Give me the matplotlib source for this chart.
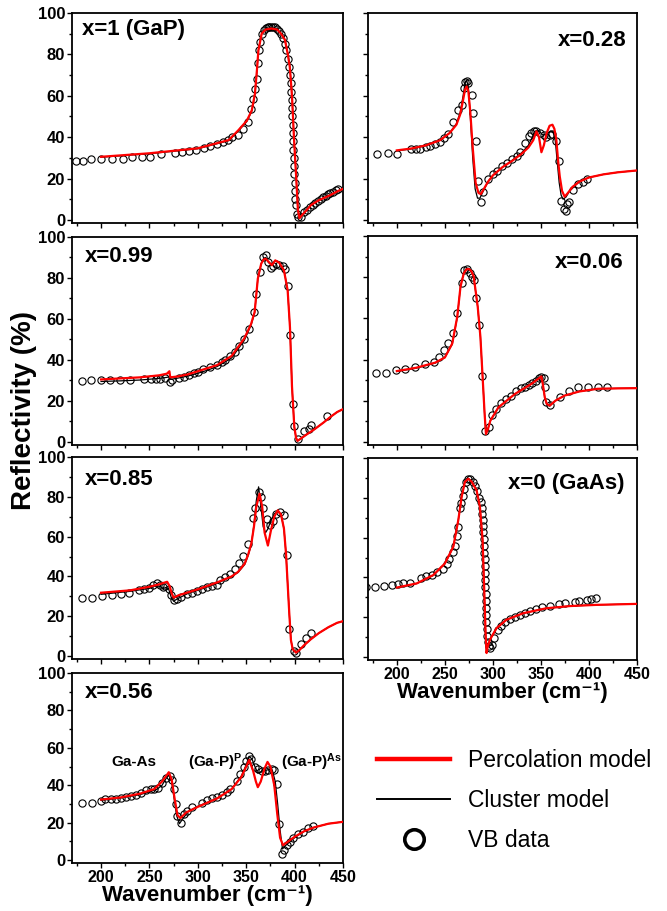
import matplotlib
matplotlib.use("Agg")
import matplotlib.pyplot as plt
from matplotlib.lines import Line2D
from matplotlib.ticker import MultipleLocator

plt.rcParams['font.family'] = ['Liberation Sans', 'DejaVu Sans']
plt.rcParams['mathtext.default'] = 'regular'

# ---- x = 1 (GaP) ----
vb_x_gap = [174, 181.5, 189.5, 199.5, 211, 222.5, 232.5, 242, 251, 261.5, 276, 283.5, 290.5, 298, 306.5,
            312.5, 320, 326, 331, 335.5, 341, 347, 351.5, 355, 357.5, 359, 361, 362, 363.3, 364.3, 366,
            368, 370, 372, 374, 376, 378, 380, 382, 384, 386, 388, 390, 391.5, 393, 394.5, 395.5, 396,
            396.5, 397, 397.3, 397.6, 397.9, 398.2, 398.5, 398.8, 399.1, 399.4, 399.7, 400, 400.3, 400.6,
            401, 402, 404, 407, 410, 413, 415.5, 418.5, 421, 424, 427, 429.5, 432, 434.5, 437, 439.5,
            442.5, 445]
vb_y_gap = [28.6, 28.6, 29.3, 29.3, 29.3, 29.6, 30.2, 30.4, 30.5, 32, 32.3, 32.6, 33.1, 33.9, 34.6,
            35.5, 36.8, 37.5, 38.6, 40, 41, 44, 47.5, 53.5, 58.5, 63.5, 68, 76, 82, 86, 90,
            92, 92.8, 93, 93.2, 93.2, 93.2, 93, 92.5, 91.5, 90, 88, 85, 82, 78, 74, 70, 66,
            62, 58, 54, 50, 46, 42, 38, 34, 30, 26, 22, 18, 14, 10,
            7, 3, 1.5, 1.5, 4, 5, 6, 7, 8, 9, 10, 11, 11.5, 12.5, 13, 13.5,
            14.5, 15]
perc_x_gap = [200, 250, 300, 332, 342, 350.7, 355.8, 359, 361, 362.6, 366, 370, 376, 382, 386, 390, 393,
              395, 396.5, 397.5, 399.3, 401.7, 403.4, 405, 408, 412, 417, 425, 437, 445, 450]
perc_y_gap = [30.5, 32.2, 34.6, 38.6, 43.4, 48, 53, 61, 72, 82, 90, 92, 92.5, 92, 90, 87, 80,
              74, 65, 58, 40, 20, 5, 0.8, 2.5, 4.5, 7.2, 9.5, 12, 14, 15]
clus_x_gap = [200, 250, 300, 332, 342, 350.7, 355.8, 359, 361, 362.6, 366, 370, 376, 382, 386, 390, 393,
              395, 396.5, 397.5, 399.3, 401.7, 403.4, 405, 408, 412, 417, 425, 437, 445, 450]
clus_y_gap = [30.3, 32, 34.4, 38.3, 43, 47.6, 52.6, 60.5, 71.5, 82, 90.2, 92.3, 92.8, 92.2, 90.2, 87.2, 80.5,
              74.5, 65.5, 58, 40, 20, 5, 0.8, 2.5, 4.5, 7.2, 9.5, 12, 14, 15]

# ---- x = 0.28 ----
vb_x_028 = [179.2, 190.3, 200.7, 214.9, 220, 224.2, 230.1, 234.6, 239.8, 245, 249.5, 253.6, 258.8, 264,
            267.5, 269.9, 270.9, 272.7, 274.4, 277.9, 279.6, 282, 284.8, 287.2, 290, 295.2, 300.3, 303.8,
            309, 314.2, 319.4, 324.6, 328, 333.2, 337.7, 340.1, 342.6, 345.3, 348.8, 353, 355.7, 359.2,
            361.9, 366.1, 368.9, 371.3, 374, 375.8, 377, 379.2, 383.4, 388.6, 393.8, 398.3]
vb_y_028 = [31.9, 32.2, 31.9, 34.3, 34.5, 34.1, 35.1, 35.7, 36.5, 37.5, 39.6, 41.3, 47.1, 53.3,
            55.3, 63.8, 66.5, 67, 66, 60.6, 51.5, 38, 19, 8.5, 13.5, 20, 22, 23.5,
            26, 27.5, 29.5, 31, 33, 37.4, 40.5, 42, 43, 43.2, 42, 41, 40, 41,
            41.5, 38, 28.5, 9, 5.5, 4.5, 7.5, 8.5, 14.5, 17.5, 18.5, 20]
perc_x_028 = [200, 215, 230, 245, 255, 262, 266, 269, 271, 272.7, 274.5, 276.5, 279, 282, 285, 287.5, 290,
              295, 300, 310, 320, 330, 337, 342, 345.3, 348, 350.5, 353, 356, 359, 362, 364, 366, 368,
              369.6, 372, 374.7, 378, 383, 390, 400, 415, 430, 450]
perc_y_028 = [33.6, 34.5, 36, 38.5, 42, 46, 51, 58, 63, 64.5, 62, 52, 35, 18, 13, 12.5, 14.5,
              18.5, 21.5, 25.5, 28.5, 32, 35, 38.5, 42.8, 40, 32.7, 36, 42, 45.5, 46, 44, 38.8, 28,
              21, 14, 11.2, 13, 16, 18.5, 20.5, 22, 23, 23.9]
clus_x_028 = [200, 215, 230, 245, 255, 262, 266, 269, 271, 272.7, 274.5, 276.5, 279, 281.5, 284, 286.5, 289,
              295, 300, 310, 320, 330, 337, 341, 345, 349, 352, 356, 360, 363, 365, 367, 369, 371, 373,
              376, 380, 390, 400, 415, 430, 450]
clus_y_028 = [33.4, 34.3, 35.8, 38.5, 42, 46.5, 52, 60, 66, 67.5, 64, 50, 30, 15, 10.5, 10.5, 13,
              18.5, 21.5, 25.5, 28.8, 32.5, 36, 40, 43.2, 42.5, 41, 41.5, 43, 42.5, 38, 28, 18, 12, 10,
              11, 14, 18.5, 20.5, 22, 23, 23.9]

# ---- x = 0.99 ----
vb_x_099 = [180.2, 189.8, 200, 209.6, 219.8, 229.7, 244.4, 251.2, 256.3, 261.4, 265.9, 271, 273.4, 280.2,
            285.3, 290.4, 295.6, 300.7, 305.8, 312.6, 319.5, 324.6, 328, 333.1, 338.2, 342.7, 347.8,
            352.6, 358, 360.4, 363.8, 367.2, 370, 372.4, 375.1, 377.5, 380.9, 384.3, 387.7, 390.1,
            392.8, 395.2, 397.9, 399.7, 403.1, 409.9, 415, 416.7, 433.1]
vb_y_099 = [29.6, 30, 30, 30.4, 30.4, 30.4, 30.6, 30.9, 30.9, 30.6, 31.2, 29.3, 30, 31,
            31.5, 32.5, 33.5, 34.3, 35.5, 36.5, 37.5, 39, 40, 42, 44, 47, 50,
            55, 63.5, 72, 83, 90, 91, 88, 85, 86, 87, 86.5, 86, 84.5,
            76, 52, 18.5, 8, 1.5, 5.5, 6.5, 8.5, 12.5]
perc_x_099 = [200, 220, 240, 260, 268, 270, 270.6, 271.5, 280, 290, 300, 320, 335, 348, 355, 358.7, 362,
              365.5, 368, 370, 373, 376.5, 380, 384, 389, 392.8, 395.2, 397.3, 399.7, 401.5, 403, 406,
              412, 420, 430, 437, 444, 450]
perc_y_099 = [30.5, 31, 31.5, 32.5, 33.3, 34.2, 34.5, 31.5, 32, 33, 34.5, 37.5, 42, 50.5, 57.5, 63.4, 79.7,
              87, 89, 89.4, 88, 86.2, 88.6, 87.5, 83.7, 74, 56, 27, 7.3, 2, 0.5, 1.5,
              3.5, 6, 9.5, 12.2, 14.6, 16]
clus_x_099 = [200, 220, 240, 260, 268, 270.5, 272, 280, 290, 300, 310, 320, 335, 348, 355, 358.7, 362,
              365.5, 368, 370, 373, 376.5, 380, 384, 389, 392.8, 395.2, 397.3, 399.7, 401.5, 403, 406,
              412, 420, 430, 437, 444, 450]
clus_y_099 = [29.5, 29.8, 30.2, 31, 31.5, 31.8, 30.5, 31.2, 32.2, 33.5, 35, 36.8, 41, 49.5, 57, 63, 79.5,
              87, 89.5, 90, 87.5, 86.5, 88.5, 87.5, 84, 74, 56, 27, 7.3, 2, 0.5, 1.5,
              3.5, 6, 9.5, 12.2, 14.6, 16]

# ---- x = 0.06 ----
vb_x_006 = [178.7, 189, 199.3, 208.9, 219.2, 229.6, 238.8, 244, 249.1, 253.6, 258.4, 262.9, 267.4, 270.1,
            273.2, 276, 278, 280.8, 282.8, 285.2, 288.7, 292.1, 295.5, 299, 303.4, 308.6, 313.4, 318.9,
            323.7, 329.2, 333.3, 337.5, 341.2, 344.7, 347.8, 350.5, 352.9, 354, 355.7, 359.1, 369.4,
            379.7, 389, 398.6, 408.9, 419.2]
vb_y_006 = [33.4, 33.6, 34.9, 35.6, 36.4, 37.7, 38.7, 41, 44.5, 48.2, 52.7, 62.6, 77, 83.5,
            84, 82.2, 80, 78.5, 70, 57, 31.8, 5.5, 7, 13, 16, 19, 21, 22.5,
            24.5, 26, 26.5, 27.5, 28.5, 29.5, 31.2, 31.5, 31, 26.5, 19.5, 18, 22,
            24.5, 26.5, 26.7, 26.8, 26.5]
perc_x_006 = [200, 220, 240, 250, 257.7, 262.9, 266.3, 269.8, 272.5, 274.9, 277.5, 280, 284.2, 287, 289.3,
              291.4, 292.8, 295, 297.3, 305.8, 323, 340.2, 348.8, 350.5, 352, 354, 356, 359.1, 365,
              374.6, 390, 409, 430, 450]
perc_y_006 = [34.4, 36, 38.5, 41, 47.8, 60.8, 75.5, 82, 83.8, 84, 83, 80.4, 65.7, 51, 31.5,
              13.5, 3.8, 6.5, 10.3, 16.8, 23.3, 28.2, 31.2, 31.8, 28, 21.7, 18.5, 17.6, 20,
              22.5, 24.5, 25.8, 26, 26.1]
clus_x_006 = [200, 220, 240, 250, 257.7, 262.9, 266.3, 269.8, 272.5, 274.9, 277.5, 280, 284.2, 287, 289.3,
              291.4, 292.8, 295, 297.3, 305.8, 323, 340.2, 348.8, 350.5, 352, 354, 356, 359.1, 365,
              374.6, 390, 409, 430, 450]
clus_y_006 = [34.2, 35.8, 38.3, 41, 47.5, 60.5, 75.5, 82.5, 84.2, 84.3, 83, 80, 65.5, 51, 31.5,
              13.5, 4, 6.5, 10.3, 16.8, 23.3, 28.4, 31.5, 32, 28, 21.5, 18.3, 17.4, 20,
              22.5, 24.5, 25.8, 26, 26.1]

# ---- x = 0.85 ----
vb_x_085 = [180.2, 190.4, 200.7, 210.9, 220.5, 229, 239.2, 244.4, 249.5, 253.6, 258, 261.4, 264.2, 266.6,
            270, 272.4, 275.1, 278.5, 282.9, 288.7, 293.9, 299, 304.1, 309.2, 314.3, 319.5, 322.9, 328,
            333.1, 338.2, 342.3, 346.8, 351.9, 357, 359.4, 362.8, 365.5, 367.2, 371.7, 374.1, 377.5,
            380.9, 385.3, 388.7, 392.2, 394.5, 399, 401.4, 406.5, 411.6, 416.7]
vb_y_085 = [29.3, 29.3, 30.1, 30.6, 31, 31.8, 33.3, 33.5, 34, 35.8, 36.5, 35.5, 34.5, 35,
            33.5, 30.5, 28, 28.5, 29.8, 31.2, 31.8, 32.5, 33.5, 34.5, 35.2, 35.5, 38, 39.5,
            41, 43.5, 46.5, 50.5, 56.5, 69.5, 74.5, 82.4, 80, 74.5, 69, 66, 68,
            71.5, 72.5, 71, 50.8, 13.5, 2.7, 1.7, 6, 8.9, 11.7]
perc_x_085 = [200, 230, 250, 260, 265, 268.3, 271, 273, 275.1, 280, 290, 300, 320, 335, 341.6, 348.5, 352,
              355.3, 358, 360.4, 363.8, 366.5, 369, 372.4, 375.5, 379, 382.6, 386, 389, 391.1, 394.5,
              396.2, 398, 401.4, 405, 410, 416.7, 425, 435, 444, 450]
perc_y_085 = [31.8, 33, 34.8, 36, 36.8, 37.3, 35, 31.5, 29.3, 30.5, 32, 33.5, 37, 40, 42.3, 46.5, 51,
              56.5, 65, 75, 81.6, 75, 62, 55.5, 63, 70, 73.2, 71, 64, 51.5, 21.4,
              8, 3.5, 1.7, 3, 5.5, 8.4, 11.5, 14.5, 16.7, 17.5]
clus_x_085 = [200, 230, 250, 257, 261, 264, 267, 270, 272.5, 275, 278, 290, 300, 320, 335, 341.6, 348.5,
              352, 355.3, 358, 360.4, 362.8, 365, 367.5, 370, 372.5, 375.5, 379, 382.6, 386, 389, 391.1,
              394.5, 396.2, 398, 401.4, 405, 410, 416.7, 425, 435, 444, 450]
clus_y_085 = [31, 32.5, 34, 35.5, 35, 33.8, 34.5, 33.5, 29.5, 27.5, 28.5, 31.5, 33, 36.5, 40, 42, 46,
              50.5, 56, 66, 78, 85, 76, 65, 62, 64, 68, 71.5, 72.5, 71, 64, 51.5,
              21.4, 8, 3.5, 1.7, 3, 5.5, 8.4, 11.5, 14.5, 16.7, 17.5]

# ---- x = 0 (GaAs) ----
vb_x_gaas = [168.2, 176.8, 186.2, 194.8, 201, 206.9, 213.8, 224.9, 230.4, 236.3, 241.5, 247.8, 251.9,
             254.7, 258.1, 260.6, 262.3, 264, 265.7, 266.8, 268.5, 270.2, 272, 273.7, 276.1, 278.9,
             281.3, 283.7, 285.8, 287.5, 288.2, 288.8, 289.3, 289.8, 290.2, 290.6, 290.9, 291.2, 291.5,
             291.7, 291.9, 292.1, 292.3, 292.5, 292.7, 292.9, 293.1, 293.3, 293.6, 294, 294.6, 295.5,
             297, 298.6, 301, 304.8, 308, 312.5, 317.6, 322.8, 328, 333.2, 338.4, 344.6, 351.6, 359.2,
             368.9, 374.7, 385.1, 389.6, 398.3, 402.4, 407.6]
vb_y_gaas = [35.4, 35.2, 35.7, 36.4, 36.9, 37.1, 37.4, 39.8, 40.6, 41.4, 42.9, 44.4, 46.7,
             49.3, 52.7, 56, 60.8, 65.4, 74.8, 77.5, 81, 84.5, 88, 89.5, 89.5, 88,
             86, 83.5, 80, 78, 75, 72, 69, 66, 63, 59.5, 56, 52.5, 49,
             45.5, 42, 38.5, 35, 31.5, 28, 24.5, 21, 17.5, 14, 10.5, 7.5, 5.5,
             4.5, 6, 9.5, 13.5, 15.5, 17.5, 19, 20, 21.3, 22.2, 23, 24.3, 25, 25.7,
             26.7, 27, 27.7, 27.9, 28.4, 29.1, 29.5]
perc_x_gaas = [200, 220.8, 238, 250, 258.8, 264, 267.5, 270.9, 274.4, 278, 283, 286.5, 289.3, 291, 292.4,
               293.4, 294.5, 296.9, 303.8, 314, 331.5, 355.7, 380, 407.6, 450]
perc_y_gaas = [34.9, 37, 41.2, 47, 55.4, 68.8, 80.5, 88, 89.6, 88, 83.8, 75.5, 58.8, 33.7, 12,
               2, 5, 8.7, 14.5, 18.7, 22, 24.5, 25.6, 26.2, 26.7]
clus_x_gaas = [200, 220.8, 238, 250, 258.8, 264, 267.5, 270.9, 274.4, 278, 283, 286.5, 289.3, 291, 292.4,
               293.4, 294.5, 296.9, 303.8, 314, 331.5, 355.7, 380, 407.6, 450]
clus_y_gaas = [34.8, 36.9, 41, 46.8, 55.2, 68.8, 80.8, 88.3, 89.8, 88.2, 84, 75.5, 58.8, 33.7, 12,
               2.2, 5, 8.7, 14.5, 18.7, 22, 24.5, 25.6, 26.2, 26.7]

# ---- x = 0.56 ----
vb_x_056 = [180.5, 190.8, 200, 204.5, 210.3, 215.4, 220.5, 225.7, 230.8, 236, 241.1, 246.2, 251.4, 254.8,
            259.2, 263.4, 266.8, 270.9, 273.6, 275.3, 277.1, 278.8, 282.2, 285.6, 289, 294.2, 304.5,
            309.6, 314.7, 319.9, 325, 330.1, 333.6, 340.4, 343.8, 347.3, 349.7, 352.4, 355.1, 358.6,
            362, 366.1, 369.5, 372.9, 376.4, 379.1, 381.5, 383.9, 386.6, 389.4, 391.8, 395.2, 398.6,
            403.8, 408.9, 414, 419.2]
vb_y_056 = [30.6, 30.8, 31.5, 32.5, 32.5, 32.5, 33.3, 33.8, 34.3, 35, 36, 37.4, 38, 38.1,
            38.5, 41, 44, 45, 43, 37.8, 30, 23.5, 20, 24.5, 26.5, 28.3, 30.5,
            32, 33, 34, 35, 36.5, 38, 42.5, 46, 50, 53, 55.5, 54, 50,
            48.5, 47.5, 47.5, 48, 48.5, 48, 40.5, 19.6, 3.2, 5.5, 8, 9.5, 12,
            14, 15, 17, 18.1]
perc_x_056 = [200, 220, 240, 255, 263, 268, 270, 273, 276, 279, 282, 288, 300, 320, 335, 345, 350, 353,
              357, 360, 362, 365, 369, 372, 375, 379, 382, 385, 388, 392, 400, 410, 420, 435, 450]
perc_y_056 = [32.4, 33.5, 35.5, 38, 42, 45.5, 47, 43, 33, 24, 22.5, 25.5, 28.5, 33, 38, 44.5, 50, 53.5,
              48, 42, 39, 42, 49, 52.5, 50, 40, 25, 12, 8, 9.5, 12.5, 15.5, 17.5, 19.5, 20.5]
clus_x_056 = [200, 220, 240, 250, 258, 263, 267, 270, 273, 275.5, 278, 281, 285, 290, 300, 320, 335, 345,
              350, 353, 356, 359, 362, 366, 370, 374, 377, 380, 382.5, 385, 387.5, 391, 400, 410, 420,
              435, 450]
clus_y_056 = [32, 33.2, 35, 36.5, 38, 40, 43.5, 45.5, 42, 33, 24, 19.5, 22.5, 26, 28.8, 33, 38, 45,
              51, 55.5, 54, 50, 46.5, 47.5, 48, 48.5, 48, 42, 30, 16, 6, 8, 12, 15.5, 17.5,
              19.5, 20.5]

W, H = 667, 911
fig = plt.figure(figsize=(W / 100, H / 100), dpi=100)


def px_rect(left, top, right, bottom):
    return [left / W, 1 - bottom / H, (right - left) / W, (bottom - top) / H]


# (title, vb, perc, clus, axes box in px, title position, title align, x labels, y labels)
panels = [
    ('x=1 (GaP)', (vb_x_gap, vb_y_gap), (perc_x_gap, perc_y_gap), (clus_x_gap, clus_y_gap),
     px_rect(72, 13, 343, 223), (0.037, 0.92), 'left', False, True),
    ('x=0.99', (vb_x_099, vb_y_099), (perc_x_099, perc_y_099), (clus_x_099, clus_y_099),
     px_rect(72, 237, 343, 445), (0.048, 0.905), 'left', False, True),
    ('x=0.85', (vb_x_085, vb_y_085), (perc_x_085, perc_y_085), (clus_x_085, clus_y_085),
     px_rect(72, 457, 343, 659), (0.048, 0.89), 'left', False, True),
    ('x=0.56', (vb_x_056, vb_y_056), (perc_x_056, perc_y_056), (clus_x_056, clus_y_056),
     px_rect(72, 673, 343, 863), (0.048, 0.895), 'left', True, True),
    ('x=0.28', (vb_x_028, vb_y_028), (perc_x_028, perc_y_028), (clus_x_028, clus_y_028),
     px_rect(368, 13, 637, 223), (0.96, 0.87), 'right', False, False),
    ('x=0.06', (vb_x_006, vb_y_006), (perc_x_006, perc_y_006), (clus_x_006, clus_y_006),
     px_rect(368, 236, 637, 445), (0.95, 0.875), 'right', False, False),
    ('x=0 (GaAs)', (vb_x_gaas, vb_y_gaas), (perc_x_gaas, perc_y_gaas), (clus_x_gaas, clus_y_gaas),
     px_rect(368, 458, 637, 660), (0.955, 0.875), 'right', True, False),
]

for title, vb, perc, clus, rect, tpos, ha, xlab, ylab in panels:
    ax = fig.add_axes(rect)
    ax.plot(vb[0], vb[1], 'o', mfc='none', mec='black', mew=0.8, ms=5.2, zorder=2)
    ax.plot(clus[0], clus[1], color='black', lw=0.9, zorder=3)
    ax.plot(perc[0], perc[1], color='#ff0000', lw=1.6, zorder=4)
    ax.set_xlim(170, 450)
    ax.set_ylim(-1.5, 100)
    ax.xaxis.set_major_locator(MultipleLocator(50))
    ax.xaxis.set_minor_locator(MultipleLocator(25))
    ax.yaxis.set_major_locator(MultipleLocator(20))
    ax.yaxis.set_minor_locator(MultipleLocator(10))
    ax.tick_params(which='both', direction='out', width=1, top=False, right=False)
    ax.tick_params(which='major', length=3.5, pad=1.5)
    ax.tick_params(which='minor', length=2)
    ax.tick_params(axis='x', labelbottom=xlab, labelsize=11.5)
    ax.tick_params(axis='y', labelleft=ylab, labelsize=12)
    for lab in ax.get_xticklabels() + ax.get_yticklabels():
        lab.set_fontweight('bold')
    for s in ax.spines.values():
        s.set_linewidth(1.3)
    ax.text(tpos[0], tpos[1], title, transform=ax.transAxes, ha=ha, va='center',
            fontsize=16, fontweight='bold')
    if xlab:
        ax.set_xlabel('Wavenumber (cm\u207b\u00b9)', fontsize=16, fontweight='bold', labelpad=0)
    if title == 'x=0.56':
        ax.text(234, 52.5, 'Ga-As', ha='center', va='center', fontsize=11, fontweight='bold')
        ax.text(318, 52.5, '(Ga-P)$^{P}$', ha='center', va='center', fontsize=11, fontweight='bold')
        ax.text(386, 52.5, '(Ga-P)$^{As}$', ha='left', va='center', fontsize=11, fontweight='bold',
                clip_on=False)

fig.text(24 / W, 1 - 410 / H, 'Reflectivity (%)', rotation=90, ha='center', va='center',
         fontsize=20, fontweight='bold')

handles = [Line2D([], [], color='#ff0000', lw=3.2),
           Line2D([], [], color='black', lw=1.4),
           Line2D([], [], ls='none', marker='o', mfc='none', mec='black', mew=2.6, ms=14)]
fig.legend(handles, ['Percolation model', 'Cluster model', 'VB data'], loc='upper left',
           bbox_to_anchor=(377 / W, 1 - 749 / H), frameon=False, fontsize=16.5,
           handlelength=3.2, handletextpad=0.75, labelspacing=0.75, borderpad=0, borderaxespad=0)

fig.savefig('out.png', dpi=100)
